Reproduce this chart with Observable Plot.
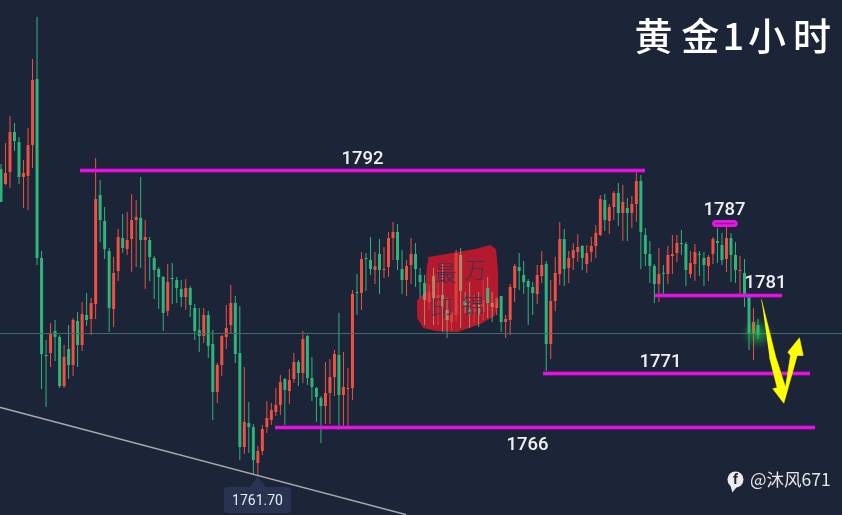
<!DOCTYPE html>
<html><head><meta charset="utf-8">
<style>
html,body{margin:0;padding:0;background:#1c2438;overflow:hidden}
svg{display:block}
</style>
<script src="https://cdn.jsdelivr.net/npm/d3@7"></script>
<script src="https://cdn.jsdelivr.net/npm/@observablehq/plot@0.6"></script>
</head><body><div id="chart"></div>
<script>
const opens=[1792.1,1790.6,1791.8,1795.8,1794.8,1791.3,1791.4,1794.5,1801.1,1783.2,1773.5,1773.7,1775.9,1775.3,1770.4,1774.1,1772.5,1776.9,1774.5,1777.5,1777.1,1778.6,1789.5,1786.9,1783.9,1778.1,1781.9,1785.2,1784.1,1785.1,1787,1787.2,1785,1785,1783.2,1782.1,1781.3,1777.9,1781.2,1781,1780.1,1779.3,1780.2,1778.2,1776,1775.4,1777.5,1774.6,1769.8,1772.5,1775.3,1776.5,1778.7,1773.7,1764.3,1766.7,1766.3,1762.7,1763.9,1766.3,1767,1767.8,1768.5,1771.1,1769.9,1771.1,1772.8,1771.7,1775.4,1771.2,1770.2,1769.2,1768.4,1769.7,1771.3,1773.5,1769.5,1770.1,1770.2,1779.8,1779.7,1783.2,1783,1782,1783.6,1782,1782.3,1785.2,1785.8,1782.1,1781,1782.5,1783.6,1781.5,1780.7,1778.8,1781.4,1779.2,1779.5,1778,1776.8,1777.5,1783.5,1778.9,1778,1777.8,1778.5,1777.8,1780.2,1778.7,1778.2,1779.4,1776.8,1777,1780.2,1782.3,1781.5,1780.9,1780.3,1779.6,1781.4,1782.6,1774.6,1778.9,1781.6,1785.1,1782.2,1783.2,1783.8,1784.4,1782.6,1783.8,1784.4,1785.5,1789,1786.9,1788.3,1789.7,1787.7,1788.2,1787.7,1788.6,1790.9,1785.5,1783.6,1782.4,1780.6,1781.7,1781.6,1783.4,1783.7,1784.7,1784.6,1781.6,1782.6,1783.6,1783.2,1782.4,1783.6,1784.9,1784.5,1783.1,1785.2,1783.5,1781.9,1781.7,1779.4,1775.6,1776.5];
const highs=[1792.6,1794.7,1797.4,1796.7,1795.3,1793,1796.2,1803.1,1807.3,1783.9,1775,1776.7,1777,1775.5,1774.5,1776.5,1777.2,1777.8,1778.8,1779.7,1779.2,1793.2,1791,1788.3,1784.2,1783.3,1786.1,1787.6,1787.8,1789.6,1789,1791.3,1787,1785.3,1783.4,1782.3,1781.4,1782.6,1782.7,1781.3,1781,1781.1,1780.4,1778.6,1778.2,1778.2,1777.9,1776,1772.7,1775.5,1778.5,1780.5,1779.4,1778.4,1772.3,1768.8,1766.6,1764.4,1766.5,1768.9,1768.7,1770.2,1771.5,1771.2,1772.1,1773.7,1773,1775.9,1775.5,1773.3,1770.3,1769.4,1772.8,1773.1,1774,1777.7,1773.8,1772.2,1780,1781.6,1783.8,1783.7,1785.3,1783.8,1785.1,1784.3,1785.8,1786.8,1786.6,1784,1783,1785.2,1784.7,1782.2,1781.5,1780.5,1782.2,1782,1782.7,1779.2,1779,1784,1784.2,1779.8,1780.8,1779.5,1779.8,1781,1781.3,1779.8,1779.3,1779.4,1777.5,1780.6,1782.6,1783.7,1782.9,1781.1,1780.8,1782.5,1783.9,1782.9,1781,1783.3,1786.8,1786.1,1783.9,1784.7,1785.6,1784.5,1784.5,1785.3,1786.5,1789.5,1789.6,1788.6,1789.9,1790.7,1790.5,1789.2,1789.4,1791.9,1791.5,1786.2,1784.9,1782.6,1784.2,1782.5,1784.4,1785.5,1785.5,1786,1784.8,1783.9,1784.6,1783.9,1783.8,1783.5,1785.3,1786.2,1785.7,1786.3,1785.7,1784.8,1783.4,1783.1,1779.4,1778.2,1777.1];
const lows=[1788.8,1790.5,1790.2,1793.9,1790.6,1788.2,1788,1792.2,1782.5,1770.1,1768.3,1772.3,1772.9,1770.2,1770.2,1771.1,1771.4,1772.3,1773.9,1776.4,1775.5,1777.1,1784.8,1783.1,1775.8,1776.3,1780.9,1783.7,1783.5,1781.8,1782.3,1782.2,1780.1,1780.9,1779.1,1778.1,1775.9,1777.4,1778.6,1778.7,1778.3,1778,1777.3,1775,1773.8,1774.7,1773.2,1767,1768.7,1771.4,1774.1,1775.7,1772.7,1763,1763.6,1763.7,1761.6,1761.5,1763.5,1765.7,1766.5,1767.4,1767.5,1766.5,1768.6,1770.7,1770.4,1770.7,1770.5,1768.9,1766.8,1764.7,1766.6,1766.6,1769.4,1766,1766.4,1766.4,1769,1777.5,1778,1779.9,1781.5,1780.6,1779.6,1781.2,1781.3,1783,1782,1779.6,1779.4,1780.6,1780.3,1779.2,1776.5,1778,1776.5,1776.5,1775.8,1775.2,1775.9,1776.8,1776.2,1777.7,1776.2,1776.7,1776.3,1777,1777.2,1776.8,1777.5,1775.8,1775.2,1775.5,1778.8,1780,1779.6,1776.5,1777.5,1778.6,1780.7,1771.9,1773.1,1777.9,1780.5,1780.4,1780.7,1782,1782.8,1782,1781.7,1782.8,1783.2,1785.4,1785.9,1785.6,1787,1786.4,1784.9,1784.9,1786.2,1786.8,1782.1,1782.4,1780.7,1778.7,1778.8,1779.4,1780.6,1781.6,1782.8,1783.5,1780.4,1781.2,1780.9,1781.4,1780.4,1780.9,1782.6,1782.7,1782.5,1781.8,1780.8,1780.7,1779.6,1778.3,1774,1773,1775.1];
const closes=[1788.8,1791.7,1795.8,1794.9,1791.3,1791.7,1794.5,1801,1783.2,1773.6,1773.4,1775.7,1775.3,1770.4,1773.3,1772.5,1777,1774.5,1777.6,1777,1778.7,1789.1,1787,1784.1,1778.2,1781.7,1785.3,1784.2,1785,1787,1787.3,1785,1785.3,1783.3,1782,1781.3,1777.7,1780.8,1781.1,1780.2,1779.3,1780.2,1778.5,1775.9,1775.4,1777.5,1774.4,1769.8,1772.5,1775.4,1776.2,1778.7,1773.6,1764.3,1766.8,1766.3,1763,1763.9,1766.1,1767.2,1768,1768.5,1770.8,1770,1771,1772.8,1771.7,1775.1,1771.2,1770.3,1769.3,1768.4,1769.7,1771.3,1773.6,1769.5,1770.3,1770.2,1779.6,1779.7,1783.1,1783.1,1782.1,1782.4,1782,1782.1,1785.2,1785.8,1783,1781,1782.4,1783.6,1782.1,1780.8,1779,1779.8,1779.2,1779.5,1778.3,1777,1777.8,1783.7,1779.9,1778.5,1777.7,1778.5,1777.5,1779,1778.7,1778.3,1779.2,1776.8,1777.1,1780.3,1782.4,1781.9,1780.8,1780.3,1779.7,1781.5,1782.5,1774.6,1778.9,1781.7,1785.1,1782.1,1783.2,1784,1784.3,1783.2,1783.7,1784.4,1785.7,1789.1,1787,1788.3,1789.7,1787.7,1788.8,1787.7,1788.6,1790.9,1785.8,1783.6,1782.4,1780.6,1781.6,1781.6,1783.5,1783.6,1784.7,1784.6,1782,1782.7,1783.8,1783.5,1782.5,1783.3,1785.1,1784.7,1783,1785.2,1783.5,1782,1782,1779.5,1775.7,1776.8,1775.5];

const upColor="#ee5044", downColor="#2fb47c", magenta="#ea14e8";
const candles=opens.map((open,i)=>({i,open,high:highs[i],low:lows[i],close:closes[i],color:closes[i]>=open?upColor:downColor}));
const brightOverSeal=[103,104,108];

const levelPrices=[1792,1779.5,1771.7,1766.3];
const levelStart=[17.64,145.25,120.4,60.92];
const levelEnd=[143.03,173.44,179.65,180.76];
const levels=levelPrices.map((y,k)=>({y,x1:levelStart[k],x2:levelEnd[k]}));

const labelText=["1792","1787","1781","1771","1766"];
const labelBar=[80.23,160.56,169.67,146.36,116.84];
const labelPrice=[1793.2,1788.1,1780.8,1772.9,1764.6];
const labels=labelText.map((t,k)=>({t,x:labelBar[k],y:labelPrice[k]}));

const ringBar=[158.6,162.7], ringPrice=[1786.7,1786.7];
const nowPrice=1775.7, leftBar=-0.11, rightBar=186.75;
const trendBar=[-0.11,89.77], trendPrice=[1768.3,1757.6];

const arrowBar=[168.77,171.95,174.1,175.21,174.61,177.2,178.02,176.69,173.73,171.28,172.25,170.55];
const arrowPrice=[1779.07,1773.33,1770.33,1773.5,1773.83,1775.27,1773.5,1773.5,1768.73,1770.17,1770.27,1773.33];
const arrow=arrowBar.map((x,k)=>({x,y:arrowPrice[k]}));

const sealBar=[94.87,97.54,101.31,105.3,108.63,109.74,110.19,110.19,109.52,106.41,101.31,96.43,93.76,92.43,92.43,94.21,94.65];
const sealPrice=[1783.3,1783.5,1783.8,1784.1,1784.5,1784.1,1782,1779.3,1777.5,1776.7,1775.9,1776,1776.3,1777.3,1779,1779.8,1782.5];
const seal=sealBar.map((x,k)=>({x,y:sealPrice[k]}));
const sealChars=["万","锦","最","印"], sealCharBar=[105.3,104.86,98.65,97.98], sealCharPrice=[1782,1778.5,1781.7,1778.2];
const sealText=sealChars.map((t,k)=>({t,x:sealCharBar[k],y:sealCharPrice[k]}));

const tipBar=[49.6,64.47], tipPrice=[1760.3,1757.7];
const tipArrowBar=[55.15,56.93,58.92], tipArrowPrice=[1760.3,1761.4,1760.3];
const tipArrow=tipArrowBar.map((x,k)=>({x,y:tipArrowPrice[k]}));
const tipLabel="1761.70", tipLabelBar=56.93, tipLabelPrice=1759;

const titleChars=["黄","金","1","小","时"], titleBar=[144.8,155.2,162.5,170,180], titlePrice=1805.3;
const title=titleChars.map((t,k)=>({t,x:titleBar[k],y:titlePrice}));
const credit="@沐风671", creditBar=166.2, creditPrice=1761;
const logoBar=163, logoPrice=1761.1;
const logoTailBar=[161.6,162.3,163.4], logoTailPrice=[1761,1759.8,1760.4];
const logoTail=logoTailBar.map((x,k)=>({x,y:logoTailPrice[k]}));

const glowBar=[167.9], glowPrice=[1775.7];

const cjk='"Noto Sans CJK SC"';
const plot=Plot.plot({
  width:842,height:515,margin:0,
  style:{background:"#1c2438"},
  x:{domain:[leftBar,rightBar],axis:null},
  y:{domain:[1757.5,1809],axis:null},
  marks:[
    Plot.line(seal,{x:"x",y:"y",fill:"#b31a2d",stroke:"#b31a2d",strokeWidth:1}),
    Plot.ruleX(candles,{x:"i",y1:"low",y2:"high",stroke:"color",strokeWidth:1}),
    Plot.ruleX(candles,{x:"i",y1:"open",y2:"close",stroke:"color",strokeWidth:3}),
    Plot.line(seal,{x:"x",y:"y",fill:"#b31a2d",fillOpacity:0.3,stroke:"none"}),
    Plot.line(seal,{x:"x",y:"y",fill:"#b31a2d",stroke:"none",mixBlendMode:"lighten"}),
    Plot.ruleX(candles.filter(d=>brightOverSeal.includes(d.i)),{x:"i",y1:"open",y2:"close",stroke:"color",strokeWidth:3,strokeOpacity:0.8}),
    Plot.text(sealText,{x:"x",y:"y",text:"t",fill:"#3c3350",fontSize:22,fontFamily:cjk,fontWeight:300}),
    Plot.ruleY([nowPrice],{x1:leftBar,x2:rightBar,stroke:"#3c6e67",strokeWidth:1}),
    Plot.line(trendBar.map((x,k)=>({x,y:trendPrice[k]})),{x:"x",y:"y",stroke:"#a9a9a9",strokeWidth:1.5}),
    Plot.ruleY(levels,{y:"y",x1:"x1",x2:"x2",stroke:"#a611ab",strokeWidth:4}),
    Plot.ruleY(levels,{y:"y",x1:"x1",x2:"x2",stroke:magenta,strokeWidth:2.6}),
    Plot.line(ringBar.map((x,k)=>({x,y:ringPrice[k]})),{x:"x",y:"y",stroke:magenta,strokeWidth:7,strokeLinecap:"round"}),
    Plot.line(ringBar.map((x,k)=>({x,y:ringPrice[k]})),{x:"x",y:"y",stroke:"#8e1a9c",strokeWidth:1.5}),
    Plot.dot(glowBar.map((x,k)=>({x,y:glowPrice[k]})),{x:"x",y:"y",r:10,fill:"#26d548",fillOpacity:0.5,imageFilter:"blur(4px)"}),
    Plot.line(arrow,{x:"x",y:"y",fill:"#ffff00",stroke:"#ffff00",strokeWidth:0.6}),
    Plot.text(labels,{x:"x",y:"y",text:"t",fill:"#f2f2f2",fontSize:18.5,fontFamily:"Roboto",fontWeight:500}),
    Plot.line(tipArrow,{x:"x",y:"y",fill:"#273350",stroke:"none"}),
    Plot.rect([0],{x1:()=>tipBar[0],x2:()=>tipBar[1],y1:()=>tipPrice[0],y2:()=>tipPrice[1],fill:"#273350",rx:3}),
    Plot.text([tipLabel],{x:()=>tipLabelBar,y:()=>tipLabelPrice,text:d=>d,fill:"#e8ebf0",fontSize:14,fontFamily:"Roboto"}),
    Plot.text(title,{x:"x",y:"y",text:"t",fill:"#ffffff",fontSize:38,fontFamily:cjk,fontWeight:500}),
    Plot.line(logoTail,{x:"x",y:"y",fill:"#ececec",stroke:"none"}),
    Plot.dot([0],{x:()=>logoBar,y:()=>logoPrice,r:8,fill:"#ececec"}),
    Plot.text(["f"],{x:()=>logoBar,y:()=>logoPrice,text:d=>d,fill:"#1c2438",fontSize:14,fontWeight:700,fontFamily:"Roboto"}),
    Plot.text([credit],{x:()=>creditBar,y:()=>creditPrice,text:d=>d,textAnchor:"start",fill:"#e6e6e6",fontSize:17.5,fontFamily:cjk})
  ]
});
document.getElementById("chart").append(plot);
</script></body></html>
